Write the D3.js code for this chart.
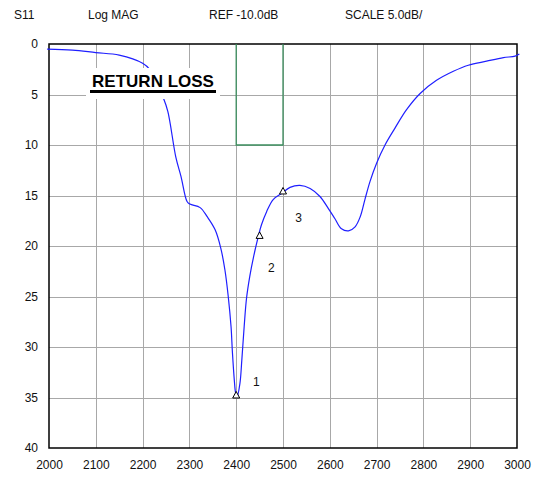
<!DOCTYPE html>
<html>
<head>
<meta charset="utf-8">
<script src="https://cdn.jsdelivr.net/npm/d3@7"></script>
<style>
  body { margin: 0; background: #fff; }
  svg { font-family: Arial, "Liberation Sans", sans-serif; }
</style>
</head>
<body>
<div id="chart"></div>
<script>
let w = 533;
let h = 478;
let margin = { left: 49, right: 16, top: 44, bottom: 30 };

// header texts
const headerLabels = ["S11", "Log MAG", "REF -10.0dB", "SCALE 5.0dB/"];
const headerX = [14, 88, 209, 345];

// axes
const xTicks = [2000, 2100, 2200, 2300, 2400, 2500, 2600, 2700, 2800, 2900, 3000];
const yTicks = [0, 5, 10, 15, 20, 25, 30, 35, 40];

// measured trace (MHz, return loss dB)
const freq = [1996, 2050, 2100, 2150, 2200, 2215, 2244, 2254, 2271, 2282, 2295, 2301,
  2323, 2338, 2355, 2367, 2376, 2383, 2389, 2392, 2396, 2399, 2402, 2408, 2412, 2417,
  2422, 2429, 2437, 2447, 2454, 2465, 2479, 2497, 2515, 2536, 2558, 2579, 2597, 2611,
  2625, 2640, 2654, 2665, 2675, 2686, 2700, 2718, 2739, 2764, 2793, 2828, 2864, 2896,
  2935, 2971, 2996, 3005];
const loss = [0.5, 0.6, 0.85, 1.1, 1.9, 2.5, 5.3, 6.7, 11.2, 13.1, 15.6, 15.85,
  16.2, 17.1, 18.4, 20.2, 22.4, 25.0, 28.0, 30.6, 33.3, 34.6, 34.9, 33.6, 31.3, 28.0,
  25.2, 23.0, 21.1, 19.1, 17.9, 16.6, 15.4, 14.8, 14.2, 14.0, 14.3, 15.1, 16.3, 17.3,
  18.3, 18.5, 18.1, 17.1, 15.4, 13.6, 11.8, 10.0, 8.35, 6.5, 4.9, 3.6, 2.7, 2.1,
  1.7, 1.35, 1.2, 1.0];

// markers
const markerNames = ["1", "2", "3"];
const markerFreq = [2400, 2450, 2500];
const markerLoss = [34.9, 19.1, 14.7];
const markerLabelFreq = [2436, 2468, 2526];
const markerLabelLoss = [33.9, 22.6, 17.6];

// spec mask (band 2400-2500, better than 10 dB)
const maskFreq = [2400, 2400, 2500, 2500];
const maskLoss = [0, 10, 10, 0];

const svg = d3.select("#chart")
  .append("svg")
  .attr("width", w)
  .attr("height", h);

const x = d3.scaleLinear()
  .domain([2000, 3000])
  .range([margin.left, w - margin.right]);

const y = d3.scaleLinear()
  .domain([0, 40])
  .range([margin.top, h - margin.bottom]);

// header
svg.selectAll(".hdr")
  .data(headerLabels)
  .enter()
  .append("text")
  .attr("class", "hdr")
  .attr("x", (d, i) => headerX[i])
  .attr("y", 19)
  .attr("font-size", 12)
  .attr("fill", "#111")
  .text(d => d);

// grid
svg.append("g")
  .selectAll("line")
  .data(xTicks.slice(1, -1))
  .enter()
  .append("line")
  .attr("x1", d => Math.round(x(d)) + 0.5)
  .attr("x2", d => Math.round(x(d)) + 0.5)
  .attr("y1", y(0))
  .attr("y2", y(40))
  .attr("stroke", "#a8a8a8");

svg.append("g")
  .selectAll("line")
  .data(yTicks.slice(1, -1))
  .enter()
  .append("line")
  .attr("x1", x(2000))
  .attr("x2", x(3000))
  .attr("y1", d => Math.round(y(d)) + 0.5)
  .attr("y2", d => Math.round(y(d)) + 0.5)
  .attr("stroke", "#a8a8a8");

// axes
const xAxis = svg.append("g")
  .attr("transform", `translate(0,${y(40)})`)
  .call(d3.axisBottom(x).tickValues(xTicks).tickSize(0).tickPadding(12).tickFormat(d3.format("d")));
const yAxis = svg.append("g")
  .attr("transform", `translate(${x(2000)},0)`)
  .call(d3.axisLeft(y).tickValues(yTicks).tickSize(0).tickPadding(11));
[xAxis, yAxis].forEach(g => {
  g.select(".domain").remove();
  g.selectAll("text").attr("font-size", 12).attr("fill", "#111")
    .attr("font-family", "Arial, 'Liberation Sans', sans-serif");
});

// frame
svg.append("rect")
  .attr("x", x(2000))
  .attr("y", y(0))
  .attr("width", x(3000) - x(2000))
  .attr("height", y(40) - y(0))
  .attr("fill", "none")
  .attr("stroke", "#000")
  .attr("stroke-width", 1.5);

// mask
svg.append("path")
  .attr("d", d3.line()(maskFreq.map((f, i) => [x(f), y(maskLoss[i])])))
  .attr("fill", "none")
  .attr("stroke", "#3d8f5f")
  .attr("stroke-width", 1.3);

// trace
svg.append("path")
  .datum(freq.map((f, i) => [f, loss[i]]))
  .attr("d", d3.line()
    .x(d => x(d[0]))
    .y(d => y(d[1]))
    .curve(d3.curveCatmullRom.alpha(0.5)))
  .attr("fill", "none")
  .attr("stroke", "#1f1fff")
  .attr("stroke-width", 1.2);

// title box
const title = svg.append("g");
title.append("rect")
  .attr("x", 86)
  .attr("y", 68)
  .attr("width", 134)
  .attr("height", 31)
  .attr("fill", "#fff");
title.append("text")
  .attr("x", 153)
  .attr("y", 87)
  .attr("text-anchor", "middle")
  .attr("font-size", 17)
  .attr("font-weight", "bold")
  .attr("fill", "#000")
  .text("RETURN LOSS");
title.append("rect")
  .attr("x", 90)
  .attr("y", 90)
  .attr("width", 126)
  .attr("height", 3)
  .attr("fill", "#000");

// markers
const mk = svg.append("g");
mk.selectAll("path")
  .data(markerNames)
  .enter()
  .append("path")
  .attr("d", (d, i) => {
    const cx = x(markerFreq[i]), cy = y(markerLoss[i]);
    return `M${cx},${cy - 5}L${cx + 3.5},${cy + 1.5}L${cx - 3.5},${cy + 1.5}Z`;
  })
  .attr("fill", "#fff")
  .attr("stroke", "#000")
  .attr("stroke-width", 1);
mk.selectAll("text")
  .data(markerNames)
  .enter()
  .append("text")
  .attr("x", (d, i) => x(markerLabelFreq[i]))
  .attr("y", (d, i) => y(markerLabelLoss[i]))
  .attr("font-size", 12)
  .attr("fill", "#111")
  .text(d => d);
</script>
</body>
</html>
